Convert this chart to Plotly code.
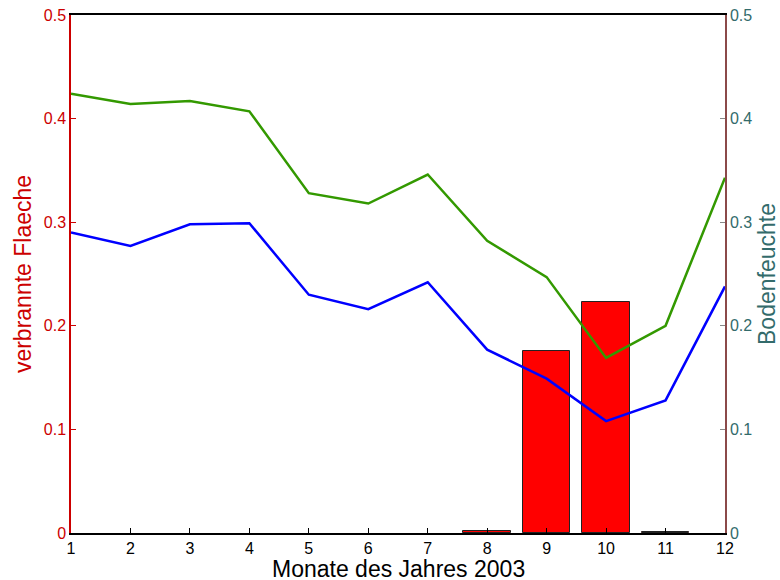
import plotly.graph_objects as go

months = list(range(1, 13))
burned_area = [None, None, None, None, None, None, None, 0.002, 0.176, 0.223, 0.001, None]
soil_green = [0.424, 0.414, 0.417, 0.407, 0.328, 0.318, 0.346, 0.282, 0.247, 0.169, 0.200, 0.343]
soil_blue = [0.290, 0.277, 0.298, 0.299, 0.230, 0.216, 0.242, 0.177, 0.149, 0.108, 0.128, 0.238]
yticks = [0, 0.1, 0.2, 0.3, 0.4, 0.5]

RED = "#cc0000"
TEAL = "#336b6b"
FONT = "Liberation Sans, Arial, sans-serif"

fig = go.Figure()
fig.add_trace(go.Bar(
    x=months, y=burned_area, width=0.8,
    marker=dict(color="#ff0000", line=dict(color="#222222", width=1)),
    yaxis="y", showlegend=False,
))
fig.add_trace(go.Scatter(
    x=months, y=soil_green, mode="lines",
    line=dict(color="#339900", width=2.5), yaxis="y2", showlegend=False,
))
fig.add_trace(go.Scatter(
    x=months, y=soil_blue, mode="lines",
    line=dict(color="#0000ff", width=2.5), yaxis="y2", showlegend=False,
))

fig.update_layout(
    width=780, height=580,
    margin=dict(l=71, r=55, t=15, b=47, pad=0),
    paper_bgcolor="white", plot_bgcolor="white",
    font=dict(family=FONT, size=16, color="black"),
    bargap=0,
    xaxis=dict(
        range=[1, 12], tickvals=months, ticks="inside", ticklen=5,
        tickcolor="black", showline=True, linecolor="black", linewidth=1.5,
        mirror=True, showgrid=False, zeroline=False, automargin=False,
        tickfont=dict(size=16, color="black"),
    ),
    yaxis=dict(
        range=[0, 0.5], tickvals=yticks, ticks="inside", ticklen=5,
        tickcolor=RED, showline=True, linecolor=RED, linewidth=1.5,
        showgrid=False, zeroline=False, automargin=False,
        tickfont=dict(size=16, color=RED),
        title=dict(text="verbrannte Flaeche", font=dict(size=23, color=RED), standoff=6),
    ),
    yaxis2=dict(
        range=[0, 0.5], tickvals=yticks, overlaying="y", side="right",
        ticks="inside", ticklen=5, tickcolor="#888888",
        showline=True, linecolor="#8b4a4a", linewidth=1.5,
        showgrid=False, zeroline=False, automargin=False,
        tickfont=dict(size=16, color=TEAL),
        title=dict(text="Bodenfeuchte", font=dict(size=23, color=TEAL)),
    ),
    annotations=[dict(
        text="Monate des Jahres 2003", xref="paper", yref="paper",
        x=0.5, y=-0.0695, xanchor="center", yanchor="middle",
        showarrow=False, font=dict(size=23, color="black"),
    )],
)

fig.write_html("out.html")
